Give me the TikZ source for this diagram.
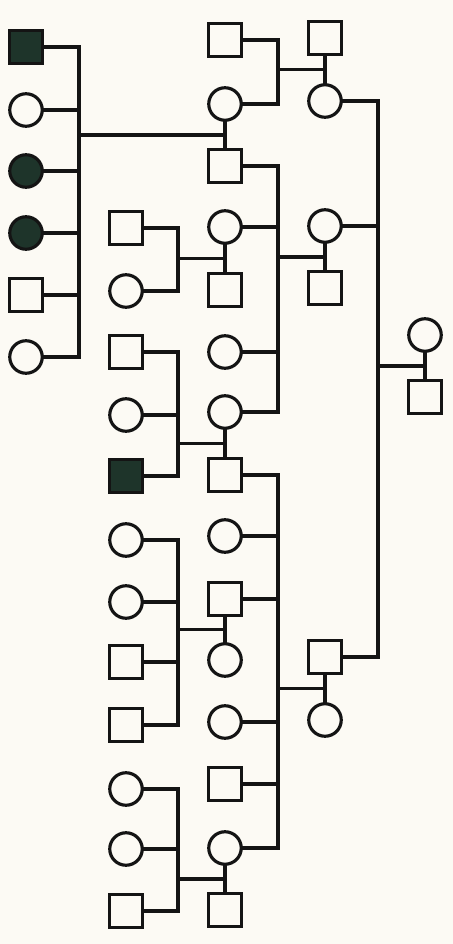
\documentclass[tikz,border=0pt]{standalone}
\usepackage{tikz}
\usetikzlibrary{calc}
\definecolor{PaperCream}{RGB}{252, 250, 244}
\definecolor{InkBlack}{RGB}{20, 20, 20}
\definecolor{AffectedDark}{RGB}{30, 52, 42}

\tikzset{
  male/.style={draw=InkBlack, rectangle, minimum size=6.5mm, inner sep=0pt, line width=1.8pt},
  female/.style={draw=InkBlack, circle, minimum size=6.5mm, inner sep=0pt, line width=1.8pt},
  affected/.style={fill=AffectedDark},
  link/.style={draw=InkBlack, line width=1.8pt, line cap=rect}
}

\begin{document}
\begin{tikzpicture}[x=0.2mm, y=-0.2mm]
  % Paper
  \fill[PaperCream] (0, 0) rectangle (453, 944);
  \useasboundingbox (0, 0) rectangle (453, 944);

  % Sibship lines
  \coordinate (s1) at (79, 0);
  \coordinate (s2) at (178, 0);
  \coordinate (s3) at (278, 0);
  \coordinate (s4) at (378, 0);

  % Column 1
  \node[male, affected] (a1) at (26, 47) {};
  \node[female] (a2) at (26, 110) {};
  \node[female, affected] (a3) at (26, 171) {};
  \node[female, affected] (a4) at (26, 233) {};
  \node[male] (a5) at (26, 295) {};
  \node[female] (a6) at (26, 357) {};

  % Column 2
  \node[male] (b1) at (126, 228) {};
  \node[female] (b2) at (126, 291) {};
  \node[male] (b3) at (126, 352) {};
  \node[female] (b4) at (126, 415) {};
  \node[male, affected] (b5) at (126, 476) {};
  \node[female] (b6) at (126, 540) {};
  \node[female] (b7) at (126, 602) {};
  \node[male] (b8) at (126, 662) {};
  \node[male] (b9) at (126, 725) {};
  \node[female] (b10) at (126, 789) {};
  \node[female] (b11) at (126, 849) {};
  \node[male] (b12) at (126, 911) {};

  % Column 3
  \node[male] (c1) at (225, 40) {};
  \node[female] (c2) at (225, 104) {};
  \node[male] (c3) at (225, 166) {};
  \node[female] (c4) at (225, 227) {};
  \node[male] (c5) at (225, 290) {};
  \node[female] (c6) at (225, 352) {};
  \node[female] (c7) at (225, 412) {};
  \node[male] (c8) at (225, 475) {};
  \node[female] (c9) at (225, 536) {};
  \node[male] (c10) at (225, 599) {};
  \node[female] (c11) at (225, 660) {};
  \node[female] (c12) at (225, 722) {};
  \node[male] (c13) at (225, 784) {};
  \node[female] (c14) at (225, 848) {};
  \node[male] (c15) at (225, 910) {};

  % Column 4
  \node[male] (d1) at (325, 38) {};
  \node[female] (d2) at (325, 101) {};
  \node[female] (d3) at (325, 226) {};
  \node[male] (d4) at (325, 288) {};
  \node[male] (d5) at (325, 657) {};
  \node[female] (d6) at (325, 720) {};

  % Column 5
  \node[female] (e1) at (425, 335) {};
  \node[male] (e2) at (425, 397) {};

  % Couples
  \foreach \p/\q in {d1/d2, c2/c3, d3/d4, c4/c5, e1/e2, c7/c8, d5/d6, c10/c11, c14/c15} {
    \draw[link] (\p) -- (\q);
    \coordinate (mid-\p) at ($(\p)!0.5!(\q)$);
  }

  % Children of d1 + d2
  \foreach \k in {c1, c2} \draw[link] (\k) -- (\k -| s3);
  \draw[link] (c1 -| s3) -- (c2 -| s3);
  \draw[link] (s3 |- mid-d1) -- (mid-d1);

  % Children of c2 + c3
  \foreach \k in {a1, a2, a3, a4, a5, a6} \draw[link] (\k) -- (\k -| s1);
  \draw[link] (a1 -| s1) -- (a6 -| s1);
  \draw[link] (s1 |- mid-c2) -- (mid-c2);

  % Children of d3 + d4
  \foreach \k in {c3, c4, c6, c7} \draw[link] (\k) -- (\k -| s3);
  \draw[link] (c3 -| s3) -- (c7 -| s3);
  \draw[link] (s3 |- mid-d3) -- (mid-d3);

  % Children of c4 + c5
  \foreach \k in {b1, b2} \draw[link] (\k) -- (\k -| s2);
  \draw[link] (b1 -| s2) -- (b2 -| s2);
  \draw[link] (s2 |- mid-c4) -- (mid-c4);

  % Children of e1 + e2
  \foreach \k in {d2, d3, d5} \draw[link] (\k) -- (\k -| s4);
  \draw[link] (d2 -| s4) -- (d5 -| s4);
  \draw[link] (s4 |- mid-e1) -- (mid-e1);

  % Children of c7 + c8
  \foreach \k in {b3, b4, b5} \draw[link] (\k) -- (\k -| s2);
  \draw[link] (b3 -| s2) -- (b5 -| s2);
  \draw[link] (s2 |- mid-c7) -- (mid-c7);

  % Children of d5 + d6
  \foreach \k in {c8, c9, c10, c12, c13, c14} \draw[link] (\k) -- (\k -| s3);
  \draw[link] (c8 -| s3) -- (c14 -| s3);
  \draw[link] (s3 |- mid-d5) -- (mid-d5);

  % Children of c10 + c11
  \foreach \k in {b6, b7, b8, b9} \draw[link] (\k) -- (\k -| s2);
  \draw[link] (b6 -| s2) -- (b9 -| s2);
  \draw[link] (s2 |- mid-c10) -- (mid-c10);

  % Children of c14 + c15
  \foreach \k in {b10, b11, b12} \draw[link] (\k) -- (\k -| s2);
  \draw[link] (b10 -| s2) -- (b12 -| s2);
  \draw[link] (s2 |- mid-c14) -- (mid-c14);
\end{tikzpicture}
\end{document}
